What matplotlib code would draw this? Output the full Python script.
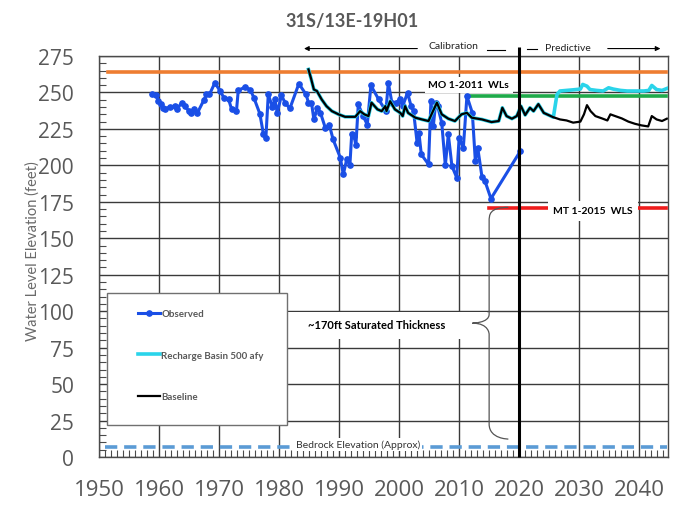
import matplotlib.pyplot as plt
from matplotlib.patches import Rectangle, PathPatch
from matplotlib.path import Path
from matplotlib.lines import Line2D
from matplotlib.ticker import MultipleLocator

plt.rcParams['font.family'] = ['Lato', 'DejaVu Sans']

# observed water levels (ft)
obs_year = [1958.9, 1959.5, 1959.9, 1960.3, 1960.6, 1961.0, 1961.8, 1962.7, 1963.0, 1963.8,
            1964.3, 1965.0, 1965.4, 1965.9, 1966.4, 1967.5, 1967.9, 1968.4, 1969.3, 1970.2,
            1970.8, 1971.6, 1972.1, 1972.9, 1973.2, 1974.3, 1975.2, 1975.8, 1976.8, 1977.4,
            1977.8, 1978.2, 1978.9, 1979.3, 1979.7, 1980.4, 1981.0, 1981.8, 1983.3, 1984.5,
            1984.9, 1985.4, 1985.8, 1986.4, 1986.9, 1987.7, 1988.4, 1989.0, 1990.2, 1990.7,
            1991.3, 1991.8, 1992.1, 1992.5, 1992.8, 1993.2, 1994.0, 1994.7, 1995.3, 1996.6,
            1997.8, 1998.2, 1998.8, 1999.5, 2000.1, 2000.6, 2001.4, 2002.0, 2002.4, 2003.0,
            2003.3, 2003.7, 2004.9, 2005.3, 2005.7, 2006.1, 2006.4, 2007.1, 2007.7, 2008.2,
            2008.8, 2009.6, 2010.0, 2010.7, 2011.3, 2012.2, 2012.7, 2013.1, 2013.8, 2014.3,
            2015.3, 2020.2]
obs_level = [248.6, 248.0, 244.0, 242.0, 239.5, 238.8, 240.0, 240.4, 238.8, 243.0,
             240.6, 237.2, 236.0, 238.8, 236.0, 245.0, 248.6, 248.6, 256.6, 250.9,
             246.4, 245.2, 238.4, 237.2, 251.4, 253.6, 252.0, 246.4, 235.4, 221.2,
             218.5, 248.6, 240.0, 245.2, 236.0, 248.0, 243.0, 239.0, 256.0, 248.6,
             243.0, 243.0, 231.5, 239.5, 236.0, 225.8, 227.4, 217.8, 205.3, 193.8,
             204.6, 200.0, 221.2, 220.0, 213.7, 241.8, 233.8, 228.0, 254.8, 245.2,
             237.2, 256.6, 243.0, 243.0, 245.2, 240.6, 249.8, 240.6, 237.2, 215.5,
             222.4, 207.5, 200.7, 244.0, 227.0, 243.0, 241.0, 229.3, 200.0, 221.2,
             199.5, 191.6, 219.0, 212.0, 247.5, 236.0, 203.0, 212.0, 192.3, 189.3,
             177.2, 209.8]

# simulated baseline
base_year = [1984.9, 1985.3, 1985.8, 1986.3, 1987.1, 1987.9, 1988.8, 1989.9, 1991.0, 1991.8,
             1992.7, 1993.5, 1994.2, 1994.9, 1995.4, 1996.4, 1997.1, 1997.7, 1997.9, 1998.5,
             1999.3, 2000.2, 2000.6, 2001.0, 2001.5, 2002.7, 2003.8, 2004.9, 2005.4, 2006.3,
             2007.1, 2008.2, 2009.3, 2010.4, 2011.3, 2012.1, 2013.8, 2015.4, 2016.6, 2017.2,
             2017.9, 2018.8, 2019.6, 2020.3, 2021.0, 2021.8, 2022.4, 2023.2, 2024.1, 2024.9,
             2025.7, 2026.8, 2027.9, 2029.0, 2030.2, 2030.8, 2031.3, 2031.9, 2032.7, 2033.8,
             2034.7, 2035.2, 2036.0, 2037.1, 2038.2, 2039.3, 2040.4, 2041.5, 2042.1, 2042.9,
             2043.8, 2044.6]
base_level = [265.8, 260.0, 252.0, 251.0, 245.2, 240.6, 237.2, 235.0, 233.3, 233.3,
              233.3, 237.2, 235.0, 233.8, 243.0, 238.4, 237.2, 240.6, 237.2, 244.0,
              238.4, 236.0, 233.8, 240.6, 236.0, 232.7, 231.5, 230.4, 235.0, 243.0,
              235.0, 232.0, 230.4, 235.0, 236.0, 232.7, 231.5, 229.7, 230.4, 239.5,
              233.8, 232.0, 233.8, 240.6, 234.5, 239.5, 237.2, 242.0, 236.0, 234.5,
              233.0, 231.5, 230.8, 229.3, 230.0, 235.0, 241.3, 237.2, 233.8, 232.2,
              230.8, 235.0, 233.8, 232.2, 230.0, 228.5, 227.4, 226.7, 233.8, 231.5,
              230.4, 232.0]

# recharge basin scenario: follows the baseline until the basin comes on line
recharge_start = 2026.0
recharge_year_after = [2026.3, 2026.8, 2027.9, 2029.0, 2030.2, 2030.6, 2031.3, 2031.8, 2032.9,
                       2034.0, 2034.9, 2035.7, 2036.9, 2038.0, 2039.1, 2040.8, 2041.6, 2042.1,
                       2042.9, 2043.8, 2044.6]
recharge_level_after = [248.6, 251.0, 251.4, 251.8, 252.3, 255.5, 254.3, 252.0, 251.4,
                        251.0, 253.2, 252.3, 251.4, 251.0, 251.0, 251.0, 251.4, 254.8,
                        252.0, 251.4, 252.7]
recharge_year = [y for y in base_year if y < recharge_start] + recharge_year_after
recharge_level = [v for y, v in zip(base_year, base_level) if y < recharge_start] + recharge_level_after

# reference levels: (level, start year, end year)
top_level = (264.0, 1951.5, 2044.4)
mo_level = (247.5, 2011.3, 2044.4)
mt_level = (171.0, 2014.9, 2044.4)
bedrock_level = (7.0, 1951.0, 2044.6)
divider_year = 2020

x_ticks = list(range(1950, 2041, 10))
y_ticks = list(range(0, 276, 25))

label_gray = '#595959'

fig = plt.figure(figsize=(6.94, 5.06), dpi=100)
fig.patch.set_facecolor('white')
ax = fig.add_axes([99 / 694, 48 / 506, 569 / 694, 401 / 506])

ax.set_xlim(1950, 2044.8)
ax.set_ylim(0, 275)
ax.set_xticks(x_ticks)
ax.set_yticks(y_ticks)
ax.xaxis.set_minor_locator(MultipleLocator(1))
ax.yaxis.set_minor_locator(MultipleLocator(5))
ax.grid(True, which='major', color='#3a3a3a', lw=1.0, zorder=0)
ax.set_axisbelow(True)
for s in ax.spines.values():
    s.set_color('#4a4a4a')
    s.set_linewidth(1.0)
ax.tick_params(axis='both', which='both', direction='in', color='#4a4a4a',
               top=False, right=False)
ax.tick_params(axis='both', which='major', length=0)
ax.tick_params(axis='both', which='minor', length=5, width=0.8)
ax.tick_params(axis='y', which='major', labelcolor=label_gray, pad=18)
ax.tick_params(axis='x', which='major', labelcolor=label_gray, pad=16)
for lab in ax.get_yticklabels():
    lab.set_fontfamily(['Open Sans', 'DejaVu Sans'])
    lab.set_fontsize(15)
for lab in ax.get_xticklabels():
    lab.set_fontfamily(['Open Sans', 'DejaVu Sans'])
    lab.set_fontsize(16)

# reference levels
ax.plot(top_level[1:], [top_level[0]] * 2, color='#ee7d31', lw=2.6, zorder=3)
ax.plot(mo_level[1:], [mo_level[0]] * 2, color='#1faa4a', lw=2.6, zorder=3)
ax.plot(mt_level[1:], [mt_level[0]] * 2, color='#ee1c1c', lw=2.6, zorder=3)
ax.plot(bedrock_level[1:], [bedrock_level[0]] * 2, color='#5b9bd5', lw=2.6,
        dashes=(3.4, 1.9), zorder=3)

# series
ax.plot(obs_year, obs_level, color='#1a4fe6', lw=2.2, marker='o', ms=3.8, zorder=4,
        label='Observed')
ax.plot(recharge_year, recharge_level, color='#2ad4ea', lw=2.6, zorder=5,
        label='Recharge Basin 500 afy')
ax.plot(base_year, base_level, color='black', lw=1.6, zorder=6, label='Baseline')

# calibration / predictive divider
ax.plot([divider_year, divider_year], [0, 281.5], color='black', lw=2.2, zorder=7,
        clip_on=False, solid_capstyle='butt')

# period arrows above the plot
arrow_kw = dict(arrowstyle='-|>', color='black', lw=0.8, mutation_scale=7)
ax.annotate('', xy=(1983.7, 280.1), xytext=(2003.5, 280.1), arrowprops=arrow_kw,
            annotation_clip=False)
ax.annotate('', xy=(2044.0, 280.1), xytext=(2034.3, 280.1), arrowprops=arrow_kw,
            annotation_clip=False)
ax.plot([2014.7, 2017.7], [278.8, 278.8], color='black', lw=0.8, clip_on=False)
ax.plot([2021.3, 2023.0], [280.1, 280.1], color='black', lw=0.8, clip_on=False)
ax.text(2009.0, 282.0, 'Calibration', fontsize=7.5, ha='center', va='center',
        color='#222222')
ax.text(2028.2, 280.6, 'Predictive', fontsize=7.5, ha='center', va='center',
        color='#222222')

# level labels
ax.text(2011.6, 255.3, 'MO 1-2011  WLs', fontsize=7.5, fontweight='bold', ha='center',
        va='center', zorder=8,
        bbox=dict(facecolor='white', edgecolor='none', pad=2.5))
ax.text(2032.3, 169.0, 'MT 1-2015  WLS', fontsize=7.5, fontweight='bold', ha='center',
        va='center', zorder=8,
        bbox=dict(facecolor='white', edgecolor='none', pad=4))
ax.text(1993.1, 8.5, 'Bedrock Elevation (Approx)', fontsize=7.5, ha='center',
        va='center', color='#333333', zorder=8,
        bbox=dict(facecolor='white', edgecolor='none', pad=1.5))

# saturated thickness brace and label
ax.add_patch(Rectangle((1981.3, 81.0), 33.4, 18.3, facecolor='white', edgecolor='none',
                       zorder=2))
ax.text(1996.3, 90.6, '~170ft Saturated Thickness', fontsize=8, fontweight='bold',
        ha='center', va='center', zorder=8)
brace = Path([(2018.2, 171.2), (2015.0, 171.2), (2015.0, 166.0), (2015.0, 161.6),
              (2015.0, 97.9),
              (2015.0, 91.8), (2012.2, 91.8), (2012.2, 91.8),
              (2015.0, 91.8), (2015.0, 84.2), (2015.0, 84.2),
              (2015.0, 22.6),
              (2015.0, 12.3), (2018.2, 12.3), (2018.2, 12.3)],
             [Path.MOVETO, Path.CURVE4, Path.CURVE4, Path.CURVE4,
              Path.LINETO,
              Path.CURVE4, Path.CURVE4, Path.CURVE4,
              Path.CURVE4, Path.CURVE4, Path.CURVE4,
              Path.LINETO,
              Path.CURVE4, Path.CURVE4, Path.CURVE4])
ax.add_patch(PathPatch(brace, facecolor='none', edgecolor='#555555', lw=0.9, zorder=8))

# legend in its own box
ax.add_patch(Rectangle((1951.3, 21.9), 30.0, 90.4, facecolor='white', edgecolor='#707070',
                       lw=1.0, zorder=8))
handles = [Line2D([], [], color='#1a4fe6', lw=2.2, marker='o', ms=3.8),
           Line2D([], [], color='#2ad4ea', lw=2.6),
           Line2D([], [], color='black', lw=1.6)]
leg = ax.legend(handles, ['Observed', 'Recharge Basin 500 afy', 'Baseline'],
                loc='upper left', bbox_to_anchor=(1956.5, 101.5),
                bbox_transform=ax.transData, frameon=False,
                prop={'weight': 'bold', 'size': 7}, labelcolor=label_gray,
                handlelength=2.3, handletextpad=0.1, labelspacing=3.35,
                borderpad=0, borderaxespad=0)
leg.set_zorder(9)

fig.text(352 / 694, 1 - 22 / 506, '31S/13E-19H01', fontsize=13, fontweight='bold',
         color=label_gray, ha='center', va='center')
fig.text(33 / 694, 1 - 251 / 506, 'Water Level Elevation (feet)', fontsize=10.5,
         color='#6a6a6a', rotation=90, ha='center', va='center')

fig.savefig('out.png', dpi=100)
